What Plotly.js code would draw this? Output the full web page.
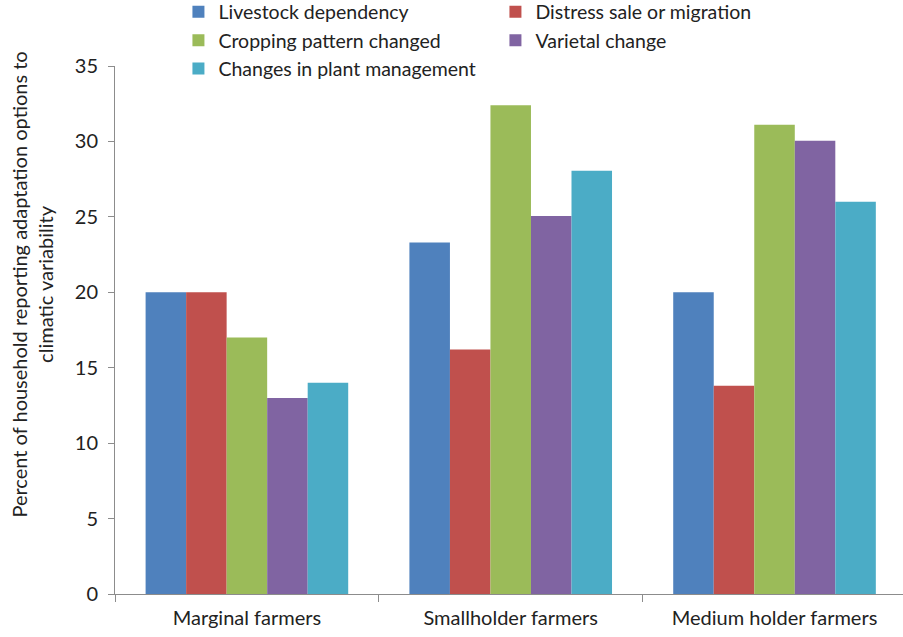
<!DOCTYPE html>
<html>
<head>
<meta charset="utf-8">
<script src="https://cdn.plot.ly/plotly-3.0.1.min.js"></script>
<style>
  html, body { margin: 0; padding: 0; background: #fff; }
  #chart { width: 903px; height: 637px; }
</style>
</head>
<body>
<div id="chart"></div>
<script>
// Farmer groups on the category axis
const categories = ["Marginal farmers", "Smallholder farmers", "Medium holder farmers"];

// Adaptation options (one bar series each)
const seriesNames = [
  "Livestock dependency",
  "Distress sale or migration",
  "Cropping pattern changed",
  "Varietal change",
  "Changes in plant management"
];

// Percent of households reporting each option
const livestockDependency = [20, 23.3, 20];
const distressSale = [20, 16.2, 13.8];
const croppingPattern = [17, 32.4, 31.1];
const varietalChange = [13, 25.05, 30.05];
const plantManagement = [14, 28.05, 26];

const yTickValues = [0, 5, 10, 15, 20, 25, 30, 35];
const yTitle = "Percent of household reporting adaptation options to<br>climatic variability";

const seriesValues = [livestockDependency, distressSale, croppingPattern, varietalChange, plantManagement];
const colors = ["#4F81BD", "#C0504D", "#9BBB59", "#8064A2", "#4BACC6"];

const traces = seriesNames.map((name, i) => ({
  type: "bar",
  name: name,
  x: categories,
  y: seriesValues[i],
  marker: { color: colors[i], line: { width: 0 } },
  hoverinfo: "x+y+name"
}));

const font = "Lato, 'Open Sans', 'DejaVu Sans', sans-serif";

const layout = {
  width: 903,
  height: 637,
  // fixed margins: the legend sits in the top band without growing it
  margin: { l: 115, r: 0, t: 66, b: 43, autoexpand: false },
  paper_bgcolor: "#ffffff",
  plot_bgcolor: "#ffffff",
  font: { family: font, size: 19, color: "#222222" },
  barmode: "group",
  bargap: 0.232,
  bargroupgap: 0,
  showlegend: true,
  legend: {
    orientation: "h",
    x: 0.0805,
    xanchor: "left",
    y: 1.139,
    yanchor: "top",
    entrywidth: 272,
    entrywidthmode: "pixels",
    itemwidth: 30,
    font: { family: font, size: 19.5, color: "#222222" },
    bgcolor: "rgba(0,0,0,0)",
    tracegroupgap: 0
  },
  xaxis: {
    type: "category",
    range: [-0.5, 2.487],
    showgrid: false,
    zeroline: false,
    showline: true,
    linecolor: "#8c8c8c",
    linewidth: 1,
    ticks: "outside",
    tickson: "boundaries",
    ticklen: 7,
    tickcolor: "#8c8c8c",
    tickfont: { family: font, size: 20, color: "#222222" },
    ticklabelstandoff: 6
  },
  yaxis: {
    range: [0, 35],
    tickvals: yTickValues,
    ticktext: yTickValues.map(String),
    showgrid: false,
    zeroline: false,
    showline: true,
    linecolor: "#8c8c8c",
    linewidth: 1,
    ticks: "outside",
    ticklen: 6,
    tickcolor: "#8c8c8c",
    tickfont: { family: font, size: 20, color: "#222222" },
    ticklabelstandoff: 6
  },
  annotations: [{
    // vertical axis title, placed slightly above the plot centre
    text: yTitle,
    textangle: -90,
    xref: "paper",
    yref: "paper",
    x: -0.1047,
    y: 0.587,
    xanchor: "center",
    yanchor: "middle",
    showarrow: false,
    align: "center",
    font: { family: font, size: 20, color: "#222222" }
  }]
};

Plotly.newPlot("chart", traces, layout, { displayModeBar: false, staticPlot: true });
</script>
</body>
</html>
